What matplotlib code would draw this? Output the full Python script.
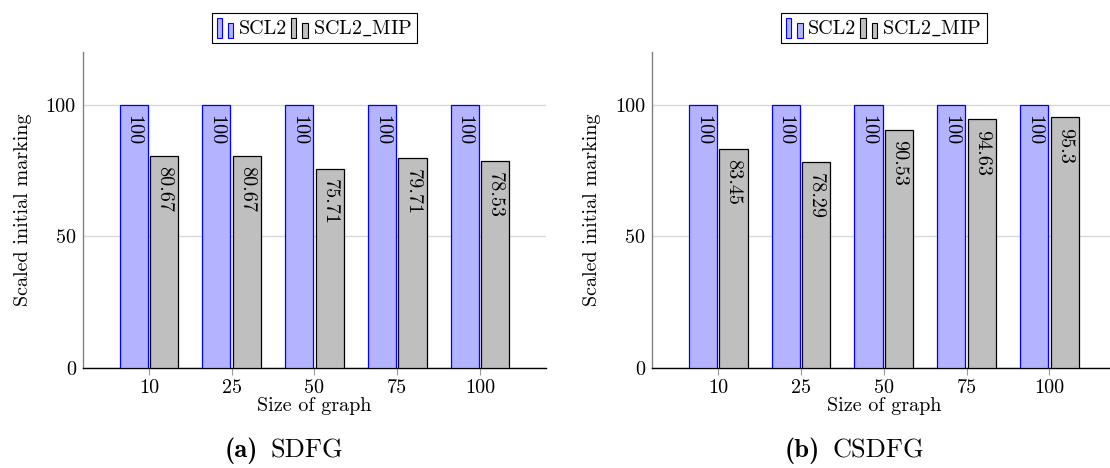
import matplotlib
matplotlib.use("Agg")
import matplotlib.pyplot as plt
from matplotlib.patches import Rectangle
from matplotlib.legend_handler import HandlerBase
import numpy as np

# Data
sizes = ["10", "25", "50", "75", "100"]
scl2_sdfg = [100, 100, 100, 100, 100]
mip_sdfg = [80.67, 80.67, 75.71, 79.71, 78.53]
scl2_csdfg = [100, 100, 100, 100, 100]
mip_csdfg = [83.45, 78.29, 90.53, 94.63, 95.3]
captions = [("(a)", "SDFG"), ("(b)", "CSDFG")]

plt.rcParams['font.family'] = ['cmr10', 'DejaVu Serif']
plt.rcParams['mathtext.fontset'] = 'cm'
plt.rcParams['axes.formatter.use_mathtext'] = True

blue_fill = "#b3b3ff"
blue_edge = "#0000ff"
gray_fill = "#bfbfbf"
fs = 14.5


class YbarHandler(HandlerBase):
    # pgfplots style ybar legend image: two small bars
    def create_artists(self, legend, orig_handle, xdescent, ydescent,
                       width, height, fontsize, trans):
        w = width * 0.3
        x0 = -xdescent
        y0 = -ydescent - height * 0.15
        r1 = Rectangle((x0, y0), w, height * 1.15)
        r2 = Rectangle((x0 + width * 0.62, y0), w, height * 0.85)
        for r in (r1, r2):
            r.set_facecolor(orig_handle.get_facecolor())
            r.set_edgecolor(orig_handle.get_edgecolor())
            r.set_linewidth(0.8)
            r.set_transform(trans)
        return [r1, r2]


fig = plt.figure(figsize=(11.1, 4.68), dpi=100)
W, H = 1110, 468
ax_left = [82.7, 652]
ax_w = 463.5
ax_bottom = 368
ax_h = 315.6

series = [(scl2_sdfg, mip_sdfg), (scl2_csdfg, mip_csdfg)]
x = np.arange(len(sizes))
bw = 0.34
off = 0.185

for k, (s1, s2) in enumerate(series):
    ax = fig.add_axes([ax_left[k] / W, (H - ax_bottom) / H, ax_w / W, ax_h / H])
    b1 = ax.bar(x - off, s1, bw, color=blue_fill, edgecolor=blue_edge,
                linewidth=0.9, label="SCL2", zorder=3)
    b2 = ax.bar(x + off, s2, bw, color=gray_fill, edgecolor="black",
                linewidth=0.9, label="SCL2_MIP", zorder=3)
    for xi, v in zip(x - off, s1):
        ax.annotate(f"{v:g}", (xi, v), xytext=(0, -7.5), textcoords="offset points",
                    rotation=-90, ha="center", va="top", fontsize=fs, zorder=4)
    for xi, v in zip(x + off, s2):
        ax.annotate(f"{v:g}", (xi, v), xytext=(0, -7.5), textcoords="offset points",
                    rotation=-90, ha="center", va="top", fontsize=fs, zorder=4)

    ax.set_xlim(-0.8, 4.8)
    ax.set_ylim(0, 120)
    ax.set_xticks(x)
    ax.set_xticklabels(sizes, fontsize=fs)
    ax.set_yticks([0, 50, 100])
    ax.set_yticklabels(["0", "50", "100"], fontsize=fs)
    ax.tick_params(axis="x", direction="out", length=5, width=0.8,
                   color="#999999", pad=3)
    ax.tick_params(axis="y", length=0, pad=5)
    ax.grid(axis="y", color="#d9d9d9", linewidth=1, zorder=0)
    ax.spines["top"].set_visible(False)
    ax.spines["right"].set_visible(False)
    ax.spines["left"].set_color("#808080")
    ax.spines["bottom"].set_color("black")
    ax.spines["left"].set_linewidth(1)
    ax.spines["bottom"].set_linewidth(1)
    ax.set_xlabel("Size of graph", fontsize=fs, labelpad=0)
    ax.set_ylabel("Scaled initial marking", fontsize=fs, labelpad=10)

    leg = ax.legend(handles=[b1.patches[0], b2.patches[0]], labels=["SCL2", r"SCL2$\_$MIP"],
                    handler_map={Rectangle: YbarHandler()},
                    loc="lower center", bbox_to_anchor=(0.5, 1.03), ncol=2,
                    fontsize=fs, frameon=True, fancybox=False, framealpha=1,
                    edgecolor="black", borderaxespad=0, borderpad=0.25,
                    handlelength=0.9, handleheight=0.9, handletextpad=0.2,
                    columnspacing=0.2)
    leg.get_frame().set_linewidth(0.8)

# captions
cap_pos = [(258, 271), (820, 833)]
for (lab, name), (xr, xl) in zip(captions, cap_pos):
    fig.text(xr / W, (H - 451) / H, lab, fontsize=19, family=['cmb10', 'DejaVu Serif'],
             ha="right", va="center")
    fig.text(xl / W, (H - 451) / H, name, fontsize=19, ha="left", va="center")

fig.savefig("out.png", dpi=100)
